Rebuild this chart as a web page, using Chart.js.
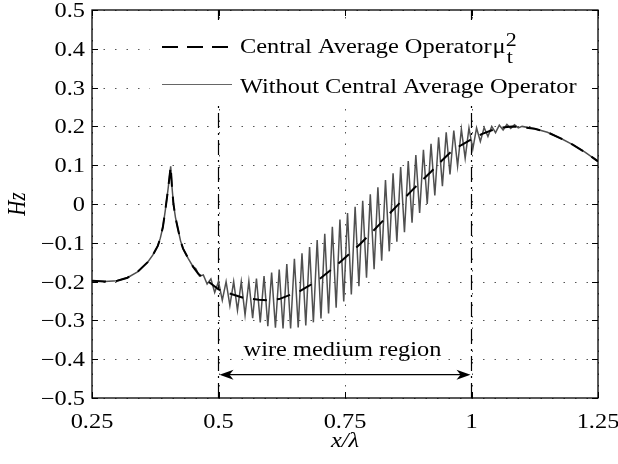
<!DOCTYPE html>
<html>
<head>
<meta charset="utf-8">
<script src="https://cdn.jsdelivr.net/npm/chart.js@4.4.0/dist/chart.umd.min.js"></script>
<style>
  html, body { margin: 0; padding: 0; background: #fff; }
</style>
</head>
<body>
<canvas id="myChart" width="618" height="464"></canvas>
<script>
// axis ticks
const xTicks = [0.25, 0.5, 0.75, 1, 1.25];
const xTickLabels = ['0.25', '0.5', '0.75', '1', '1.25'];
const yTicks = [-0.5, -0.4, -0.3, -0.2, -0.1, 0, 0.1, 0.2, 0.3, 0.4, 0.5];
const yTickLabels = ['\u22120.5', '\u22120.4', '\u22120.3', '\u22120.2', '\u22120.1', '0', '0.1', '0.2', '0.3', '0.4', '0.5'];
const xTitle = 'x/\u03bb';
const yTitle = 'Hz';
const seriesNames = ['Central Average Operator', 'Without Central Average Operator'];

// averaged field (dashed)
const avgX = [0.25, 0.275, 0.30, 0.32, 0.34, 0.36, 0.37, 0.38, 0.385, 0.39, 0.395, 0.40, 0.403, 0.4055, 0.408, 0.411, 0.415, 0.42, 0.425, 0.43, 0.44, 0.45,
  0.46, 0.47, 0.48, 0.49, 0.50, 0.52, 0.55, 0.58, 0.60, 0.62, 0.64, 0.66, 0.68, 0.70, 0.72, 0.74, 0.76, 0.78, 0.80, 0.82, 0.84, 0.86, 0.88, 0.90,
  0.92, 0.94, 0.96, 0.98, 1.00, 1.02, 1.04, 1.06, 1.08, 1.10, 1.125, 1.15, 1.175, 1.20, 1.225, 1.25];
const avgY = [-0.198, -0.2, -0.198, -0.19, -0.175, -0.15, -0.132, -0.108, -0.088, -0.06, -0.015, 0.035, 0.068, 0.097, 0.045, 0.0, -0.035, -0.065, -0.095, -0.115, -0.14, -0.162,
  -0.18, -0.19, -0.2, -0.21, -0.22, -0.23, -0.242, -0.247, -0.248, -0.245, -0.235, -0.225, -0.21, -0.193, -0.172, -0.15, -0.127, -0.103, -0.077, -0.05, -0.022, 0.005, 0.032, 0.058,
  0.083, 0.11, 0.135, 0.152, 0.167, 0.18, 0.19, 0.197, 0.2, 0.198, 0.194, 0.185, 0.17, 0.153, 0.133, 0.11];

// field without the operator (oscillating)
const rawX = [0.25, 0.275, 0.30, 0.32, 0.34, 0.36, 0.37, 0.38, 0.385, 0.39, 0.395, 0.40, 0.403, 0.4055, 0.408, 0.411, 0.415, 0.42, 0.425, 0.43, 0.44, 0.45,
  0.455, 0.4625, 0.47, 0.4775, 0.485, 0.4925, 0.5, 0.5075, 0.515, 0.5225, 0.53, 0.5375, 0.545, 0.5525, 0.56, 0.5675, 0.575, 0.5825, 0.59, 0.5975,
  0.605, 0.6125, 0.62, 0.6275, 0.635, 0.6425, 0.65, 0.6575, 0.665, 0.6725, 0.68, 0.6875, 0.695, 0.7025, 0.71, 0.7175, 0.725, 0.7325, 0.74, 0.7475,
  0.755, 0.7625, 0.77, 0.7775, 0.785, 0.7925, 0.8, 0.8075, 0.815, 0.8225, 0.83, 0.8375, 0.845, 0.8525, 0.86, 0.8675, 0.875, 0.8825, 0.89, 0.8975,
  0.905, 0.9125, 0.92, 0.9275, 0.935, 0.9425, 0.95, 0.9575, 0.965, 0.9725, 0.98, 0.9875, 0.995, 1.0025, 1.01, 1.0175, 1.025, 1.0325, 1.04, 1.0475,
  1.055, 1.0625, 1.07, 1.0775, 1.085, 1.0925, 1.1,
  1.125, 1.15, 1.175, 1.20, 1.225, 1.25];
const rawY = [-0.198, -0.2, -0.198, -0.19, -0.175, -0.15, -0.132, -0.108, -0.088, -0.06, -0.015, 0.035, 0.068, 0.097, 0.045, 0.0, -0.035, -0.065, -0.095, -0.115, -0.14, -0.162,
  -0.166, -0.186, -0.183, -0.206, -0.193, -0.228, -0.200, -0.248, -0.200, -0.262,
  -0.200, -0.274, -0.200, -0.286, -0.199, -0.294, -0.192, -0.305, -0.186, -0.315,
  -0.177, -0.319, -0.169, -0.321, -0.155, -0.321, -0.141, -0.318, -0.127, -0.313,
  -0.111, -0.305, -0.093, -0.295, -0.077, -0.282, -0.059, -0.267, -0.040, -0.251,
  -0.023, -0.233, -0.007, -0.212, 0.008, -0.190, 0.025, -0.168, 0.043, -0.146,
  0.062, -0.122, 0.079, -0.097, 0.095, -0.073, 0.111, -0.048, 0.126, -0.023,
  0.140, 0.000, 0.155, 0.022, 0.172, 0.046, 0.185, 0.076, 0.189, 0.098,
  0.193, 0.118, 0.196, 0.141, 0.196, 0.161, 0.197, 0.174, 0.200, 0.184,
  0.203, 0.191, 0.205, 0.195, 0.204, 0.196, 0.200,
  0.194, 0.185, 0.17, 0.153, 0.133, 0.11];

// wire medium region
const regionBounds = [0.5, 1];
const regionLabel = 'wire medium region';
const regionArrowY = -0.44;
const regionLabelPos = [0.745, -0.392];

const SERIF = '"Liberation Serif", "Times New Roman", serif';
const STRETCH = 1.22;

function toPoints(xs, ys) {
    return xs.map((x, i) => ({ x: x, y: ys[i] }));
}

function wideText(ctx, text, x, y, align, font) {
    ctx.save();
    ctx.font = font;
    ctx.translate(x, y);
    ctx.scale(STRETCH, 1);
    ctx.textAlign = align;
    ctx.textBaseline = 'alphabetic';
    ctx.fillStyle = '#000';
    ctx.fillText(text, 0, 0);
    const w = ctx.measureText(text).width * STRETCH;
    ctx.restore();
    return w;
}

//dotted grid behind the lines
const gridPlugin = {
    id: 'matlabGrid',
    beforeDatasetsDraw(chart) {
        const { ctx, chartArea: a, scales: { x, y } } = chart;
        ctx.save();
        ctx.strokeStyle = '#555';
        ctx.lineWidth = 1;
        ctx.setLineDash([1.5, 10]);
        xTicks.forEach(v => {
            const px = Math.round(x.getPixelForValue(v)) + 0.5;
            ctx.beginPath(); ctx.moveTo(px, a.bottom); ctx.lineTo(px, a.top); ctx.stroke();
        });
        yTicks.forEach(v => {
            const py = Math.round(y.getPixelForValue(v)) + 0.5;
            ctx.beginPath(); ctx.moveTo(a.left, py); ctx.lineTo(a.right, py); ctx.stroke();
        });
        ctx.restore();
    }
};

//frame, ticks, labels, annotation and legend
const decorPlugin = {
    id: 'matlabDecor',
    afterDatasetsDraw(chart) {
        const { ctx, chartArea: a, scales: { x, y } } = chart;
        ctx.save();

        // arrow for the wire medium region
        const ay = y.getPixelForValue(regionArrowY);
        const x0 = x.getPixelForValue(regionBounds[0]);
        const x1 = x.getPixelForValue(regionBounds[1]);
        ctx.strokeStyle = '#000';
        ctx.fillStyle = '#000';
        ctx.lineWidth = 1.2;
        ctx.setLineDash([]);
        ctx.beginPath(); ctx.moveTo(x0 + 4, ay); ctx.lineTo(x1 - 4, ay); ctx.stroke();
        [[x0, 1], [x1, -1]].forEach(([tip, dir]) => {
            ctx.beginPath();
            ctx.moveTo(tip + dir, ay);
            ctx.lineTo(tip + dir * 15, ay - 5);
            ctx.lineTo(tip + dir * 11, ay);
            ctx.lineTo(tip + dir * 15, ay + 5);
            ctx.closePath();
            ctx.fill();
        });
        wideText(ctx, regionLabel, x.getPixelForValue(regionLabelPos[0]), y.getPixelForValue(regionLabelPos[1]), 'center', '20px ' + SERIF);

        // legend
        ctx.fillStyle = '#fff';
        ctx.fillRect(150, 21, 440, 82);
        ctx.strokeStyle = '#000';
        ctx.lineWidth = 2;
        ctx.setLineDash([16, 9]);
        ctx.beginPath(); ctx.moveTo(162, 47); ctx.lineTo(232, 47); ctx.stroke();
        ctx.setLineDash([]);
        ctx.strokeStyle = '#666';
        ctx.lineWidth = 1.2;
        ctx.beginPath(); ctx.moveTo(162, 84.5); ctx.lineTo(232, 84.5); ctx.stroke();
        const w1 = wideText(ctx, seriesNames[0], 240, 53, 'left', '20px ' + SERIF);
        const mx = 240 + w1 + 1;
        const mw = wideText(ctx, '\u03bc', mx, 53, 'left', '20px ' + SERIF);
        wideText(ctx, '2', mx + mw, 46, 'left', '18px ' + SERIF);
        wideText(ctx, 't', mx + mw + 1, 63, 'left', '18px ' + SERIF);
        wideText(ctx, seriesNames[1], 240, 93, 'left', '20px ' + SERIF);

        // box and inward ticks
        ctx.strokeStyle = '#000';
        ctx.lineWidth = 1.3;
        ctx.strokeRect(a.left, a.top, a.right - a.left, a.bottom - a.top);
        ctx.lineWidth = 1;
        xTicks.forEach(v => {
            const px = Math.round(x.getPixelForValue(v)) + 0.5;
            ctx.beginPath();
            ctx.moveTo(px, a.bottom); ctx.lineTo(px, a.bottom - 6);
            ctx.moveTo(px, a.top); ctx.lineTo(px, a.top + 6);
            ctx.stroke();
        });
        yTicks.forEach(v => {
            const py = Math.round(y.getPixelForValue(v)) + 0.5;
            ctx.beginPath();
            ctx.moveTo(a.left, py); ctx.lineTo(a.left + 6, py);
            ctx.moveTo(a.right, py); ctx.lineTo(a.right - 6, py);
            ctx.stroke();
        });

        // tick labels
        xTicks.forEach((v, i) => {
            wideText(ctx, xTickLabels[i], x.getPixelForValue(v), a.bottom + 30, 'center', '20px ' + SERIF);
        });
        yTicks.forEach((v, i) => {
            wideText(ctx, yTickLabels[i], a.left - 7, y.getPixelForValue(v) + 7, 'right', '20px ' + SERIF);
        });

        // axis titles
        wideText(ctx, xTitle, (a.left + a.right) / 2, a.bottom + 49, 'center', 'italic 20px ' + SERIF);
        ctx.save();
        ctx.translate(25, (a.top + a.bottom) / 2);
        ctx.rotate(-Math.PI / 2);
        ctx.scale(1, STRETCH);
        ctx.font = 'italic 21px ' + SERIF;
        ctx.textAlign = 'center';
        ctx.fillStyle = '#000';
        ctx.fillText(yTitle, 0, 0);
        ctx.restore();

        ctx.restore();
    }
};

const data = {
    datasets: [
        {
            label: seriesNames[0],
            data: toPoints(avgX, avgY),
            borderColor: '#000',
            borderWidth: 2,
            borderDash: [14, 10]
        },
        {
            label: seriesNames[1],
            data: toPoints(rawX, rawY),
            borderColor: '#505050',
            borderWidth: 1.5
        },
        ...regionBounds.map(b => ({
            label: 'region edge',
            data: [{ x: b, y: yTicks[0] }, { x: b, y: yTicks[yTicks.length - 1] }],
            borderColor: '#000',
            borderWidth: 1.2,
            borderDash: [15, 5, 2, 5]
        }))
    ]
};

const hiddenAxis = {
    type: 'linear',
    ticks: { display: false },
    grid: { display: false, drawTicks: false },
    border: { display: false },
    title: { display: false }
};

const config = {
    type: 'line',
    data,
    options: {
        responsive: false,
        animation: false,
        devicePixelRatio: 1,
        layout: { padding: { left: 92, right: 20, top: 10, bottom: 66 } },
        elements: {
            point: { radius: 0 },
            line: { tension: 0, fill: false }
        },
        plugins: {
            legend: { display: false },
            tooltip: { enabled: false }
        },
        scales: {
            x: Object.assign({}, hiddenAxis, {
                min: xTicks[0], max: xTicks[xTicks.length - 1],
                afterFit: s => { s.height = 0; }
            }),
            y: Object.assign({}, hiddenAxis, {
                min: yTicks[0], max: yTicks[yTicks.length - 1],
                afterFit: s => { s.width = 0; }
            })
        }
    },
    plugins: [gridPlugin, decorPlugin]
};

const myChart = new Chart(document.querySelector('#myChart'), config);
</script>
</body>
</html>
